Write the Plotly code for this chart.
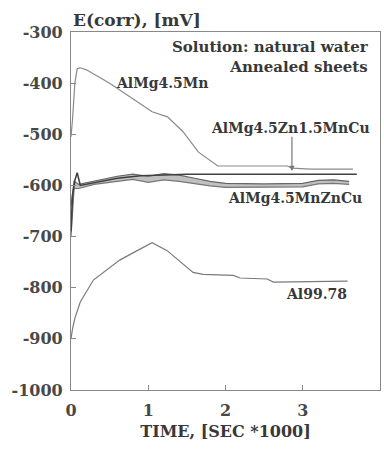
import plotly.graph_objects as go

# Corrosion potential vs. time, annealed sheets in natural water
time_mn = [0.0, 0.02, 0.05, 0.08, 0.12, 0.2, 0.5, 0.8, 1.05, 1.25, 1.45, 1.65, 1.9, 2.8, 2.86, 3.1, 3.65]
e_mn = [-505, -470, -400, -372, -370, -374, -400, -430, -456, -466, -495, -535, -562, -562, -566, -568, -568]

time_zn15 = [0.0, 0.02, 0.05, 0.08, 0.12, 0.3, 0.6, 0.9, 1.2, 1.5, 2.0, 3.0, 3.7]
e_zn15 = [-690, -620, -590, -575, -600, -595, -586, -581, -579, -578, -578, -578, -578]

time_znc = [0.0, 0.04, 0.1, 0.3, 0.6, 0.8, 1.0, 1.2, 1.4, 1.6, 1.8, 2.0, 2.5, 3.0, 3.2, 3.4, 3.6]
e_znc_hi = [-640, -592, -598, -592, -582, -578, -582, -577, -580, -586, -592, -596, -597, -596, -590, -589, -592]
e_znc_lo = [-700, -606, -606, -598, -592, -588, -594, -589, -592, -597, -601, -604, -604, -603, -597, -596, -598]

time_al = [0.0, 0.02, 0.05, 0.12, 0.29, 0.63, 0.85, 1.05, 1.24, 1.58, 1.71, 2.1, 2.19, 2.54, 2.62, 3.58]
e_al = [-900, -880, -860, -828, -785, -746, -728, -712, -727, -770, -774, -776, -781, -783, -789, -787]

y_ticks = [-300, -400, -500, -600, -700, -800, -900, -1000]
x_ticks = [0, 1, 2, 3, 4]

FONT = "DejaVu Serif"
TXT = "#383838"
LBL = dict(size=14, weight="bold")

fig = go.Figure()

fig.add_trace(go.Scatter(x=time_mn, y=e_mn, mode="lines",
                         line=dict(color="#8a8a8a", width=1.2)))
fig.add_trace(go.Scatter(x=time_znc, y=e_znc_lo, mode="lines",
                         line=dict(color="#777777", width=1.2)))
fig.add_trace(go.Scatter(x=time_znc, y=e_znc_hi, mode="lines", fill="tonexty",
                         fillcolor="rgba(150,150,150,0.6)",
                         line=dict(color="#666666", width=1.2)))
fig.add_trace(go.Scatter(x=time_zn15, y=e_zn15, mode="lines",
                         line=dict(color="#404040", width=1.6)))
fig.add_trace(go.Scatter(x=time_al, y=e_al, mode="lines",
                         line=dict(color="#7a7a7a", width=1.2)))

ann = [
    dict(x=0, y=1.0, xref="paper", yref="paper", xanchor="left", yanchor="bottom",
         text="E(corr), [mV]", showarrow=False, font=dict(size=17, weight="bold"), yshift=0),
    dict(x=0.97, y=0.99, xref="paper", yref="paper", xanchor="right", yanchor="top",
         text="Solution: natural water<br>Annealed sheets", align="right",
         showarrow=False, font=dict(size=15, weight="bold")),
    dict(x=1.18, y=-400, text="AlMg4.5Mn", showarrow=False, font=LBL),
    dict(x=2.84, y=-487, text="AlMg4.5Zn1.5MnCu", showarrow=False, font=LBL),
    dict(x=2.9, y=-625, text="AlMg4.5MnZnCu", showarrow=False, font=LBL),
    dict(x=3.18, y=-812, text="Al99.78", showarrow=False, font=LBL),
    dict(x=2.86, y=-572, ax=2.86, ay=-502, xref="x", yref="y", axref="x", ayref="y",
         text="", showarrow=True, arrowhead=2, arrowsize=0.9, arrowwidth=1.2,
         arrowcolor="#777777"),
]

fig.update_layout(
    width=384, height=452,
    margin=dict(l=71, r=4, t=32, b=62),
    paper_bgcolor="white", plot_bgcolor="white",
    showlegend=False,
    font=dict(family=FONT, color=TXT),
    annotations=ann,
)
fig.update_xaxes(range=[0, 4], tickvals=x_ticks, ticktext=[str(v) for v in x_ticks],
                 ticks="inside", ticklen=5, tickcolor="#888888", ticklabelstandoff=6,
                 showline=True, linecolor="#888888", linewidth=1.2, mirror=True,
                 showgrid=False, zeroline=False, tickfont=dict(size=16, weight="bold", color="#484848"),
                 title=dict(text="TIME, [SEC *1000]", font=dict(size=16, weight="bold"), standoff=6))
fig.update_yaxes(range=[-1000, -300], tickvals=y_ticks,
                 ticktext=["-" + str(abs(v)) for v in y_ticks],
                 ticks="inside", ticklen=5, tickcolor="#888888", ticklabelstandoff=4,
                 showline=True, linecolor="#888888", linewidth=1.2, mirror=True,
                 showgrid=False, zeroline=False, tickfont=dict(size=16, weight="bold", color="#484848"))

fig.write_html("out.html")
